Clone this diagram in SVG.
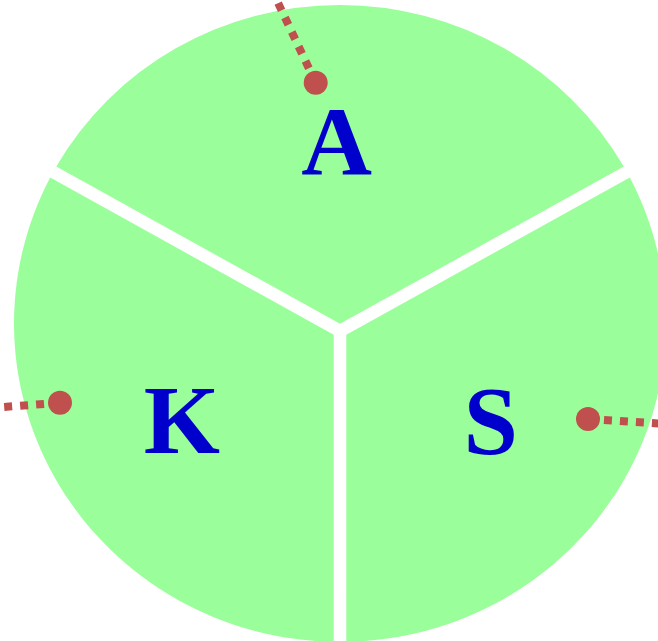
<svg xmlns="http://www.w3.org/2000/svg" width="658" height="641" viewBox="0 0 658 641">
<style>
.sector{fill:#9AFF9A;stroke:none}
.lbl{font-family:"Liberation Serif","Times New Roman",serif;font-weight:bold;font-size:98px;fill:#0000CC;text-anchor:middle}
.lead{fill:none;stroke:#C0504D;stroke-width:8;stroke-dasharray:8 8}
.dot{fill:#C0504D}
</style>
<rect width="658" height="641" fill="#FFFFFF"/>
<g id="node-A">
<path class="sector" d="M340,323.8 L56.3,166.5 A326,318.5 0 0 1 623.7,166.5 Z"/>
<text class="lbl" x="336.7" y="174">A</text>
</g>
<g id="node-K">
<path class="sector" d="M333.7,334.7 L50.2,177.6 A326,318.5 0 0 0 333.7,641.9 Z"/>
<text class="lbl" x="181.9" y="453.3">K</text>
</g>
<g id="node-S">
<path class="sector" d="M346.3,334.7 L346.3,641.9 A326,318.5 0 0 0 629.8,177.6 Z"/>
<text class="lbl" x="490.8" y="454">S</text>
</g>
<g id="connectors">
<line class="lead" x1="315.7" y1="82.7" x2="271.5" y2="-11"/>
<circle class="dot" cx="315.7" cy="82.7" r="12"/>
<line class="lead" x1="60" y1="402.7" x2="-12" y2="408.2"/>
<circle class="dot" cx="60" cy="402.7" r="12"/>
<line class="lead" x1="588" y1="419" x2="672" y2="424.4"/>
<circle class="dot" cx="588" cy="419" r="12"/>
</g>
</svg>
